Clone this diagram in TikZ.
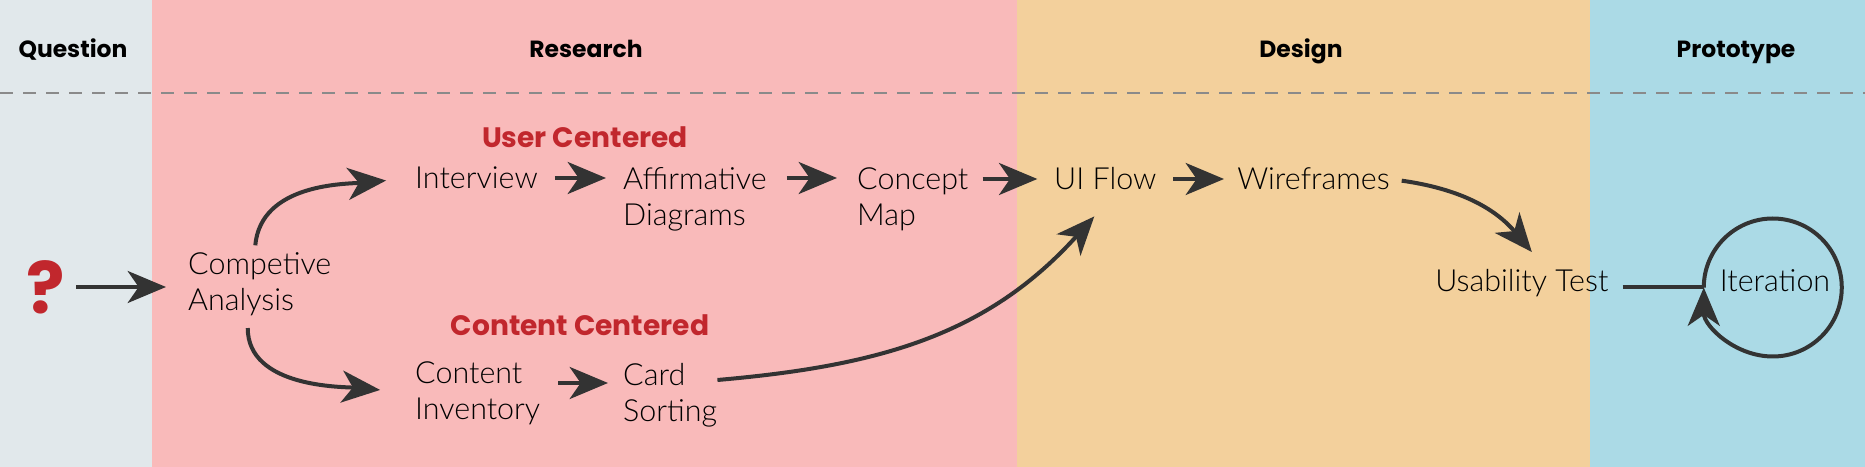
\documentclass[tikz,border=0pt]{standalone}
\usepackage{fontspec}
\setmainfont{Lato}[UprightFont=* Light, BoldFont=* Bold]
\newfontfamily\headfont{Poppins}
\usetikzlibrary{arrows.meta}
\definecolor{qbg}{HTML}{E1E8EB}
\definecolor{resbg}{HTML}{F9BABA}
\definecolor{desbg}{HTML}{F3D09C}
\definecolor{probg}{HTML}{ABDAE6}
\definecolor{redtxt}{HTML}{C1272D}
\definecolor{dashgray}{HTML}{8A8A8A}
\definecolor{arrowgray}{HTML}{333333}
\tikzset{
	stage/.style={anchor=west, align=left, inner sep=0pt, font=\fontsize{26}{31}\selectfont},
	phase/.style={anchor=base, inner sep=0pt, font=\headfont\bfseries\fontsize{20}{24}\selectfont},
	track/.style={inner sep=0pt, text=redtxt, font=\headfont\bfseries\fontsize{24}{28}\selectfont},
	flow/.style={draw=arrowgray, line width=1.2mm, -{Stealth[length=11.5mm,width=9.6mm,inset=3.3mm]}},
	link/.style={draw=arrowgray, line width=1.2mm},
}
\begin{document}
\begin{tikzpicture}[x=0.3mm, y=0.3mm]
	%columns
	\foreach \xa/\xb/\col in {0/152/qbg, 152/1017/resbg, 1017/1590/desbg, 1590/1865/probg}
	\fill[\col] (\xa,0) rectangle (\xb,467);
	\useasboundingbox (0,0) rectangle (1865,467);
	%headers
	\foreach \x/\nm/\txt in {73/hq/Question, 586/hr/Research, 1301/hd/Design, 1736/hp/Prototype}
	\node[phase] (\nm) at (\x,409) {\txt};
	\draw[dashgray, line width=0.6mm, dash pattern=on 3.9mm off 3mm] (0,374) -- (1865,374);
	%stages
	\node[inner sep=0pt, text=redtxt, font=\headfont\bfseries\fontsize{61}{64}\selectfont] (q) at (46,180) {?};
	\node[stage] (comp) at (188,183) {Competive\\Analysis};
	\node[track] (ucl) at (585,330) {User Centered};
	\node[stage] (intv) at (415,289) {Interview};
	\node[stage] (affirm) at (623,268) {Affirmative\\Diagrams};
	\node[stage] (concept) at (857,268) {Concept\\Map};
	\node[stage] (uiflow) at (1054,288) {UI Flow};
	\node[stage] (wire) at (1237,288) {Wireframes};
	\node[stage] (usab) at (1435,184) {Usability Test};
	\node[track] (ccl) at (580,142) {Content Centered};
	\node[stage] (content) at (415,74) {Content\\Inventory};
	\node[stage] (card) at (623,72) {Card\\Sorting};
	\node[circle, minimum size=41.4mm, inner sep=0pt] (iter) at (1773,179.5) {};
	\node[stage, anchor=center] (itertxt) at (1775,186) {Iteration};
	%arrows
	\draw[flow, shorten <=3.3mm, shorten >=6.6mm] (q.east) -- (q.east -| comp.west);
	\draw[flow, shorten <=2mm, shorten >=8.7mm] ([xshift=-1.5mm]comp.north) to[out=85, in=185] (intv.west);
	\draw[flow, shorten <=3.6mm, shorten >=10.5mm] ([xshift=-3.6mm]comp.south) to[out=-90, in=175] (content.west);
	\draw[flow, shorten <=5.1mm, shorten >=5.1mm] (intv.east) -- (intv.east -| affirm.west);
	\draw[flow, shorten <=6mm, shorten >=6mm] (affirm.east |- intv.east) -- (concept.west |- intv.east);
	\draw[flow, shorten <=4.2mm, shorten >=5mm] (concept.east |- uiflow.west) -- (uiflow.west);
	\draw[flow, shorten <=5mm, shorten >=3.9mm] (uiflow.east) -- (wire.west);
	\draw[flow, shorten <=5.4mm, shorten >=4.5mm] ([yshift=3mm]content.east) -- ([yshift=3mm]content.east -| card.west);
	\draw[flow] ([yshift=4.5mm]card.east) to[out=5, in=-132] ([shift={(-11,-26)}]uiflow.south);
	\draw[flow, shorten <=3.6mm] (wire.east) to[out=-8, in=130] ([shift={(10,17)}]usab.north);
	\draw[link, shorten <=4.2mm] (usab.east |- iter.west) -- (iter.west);
	\draw[flow] (iter.west) arc[start angle=180, end angle=-180, radius=20.7mm];
\end{tikzpicture}
\end{document}
